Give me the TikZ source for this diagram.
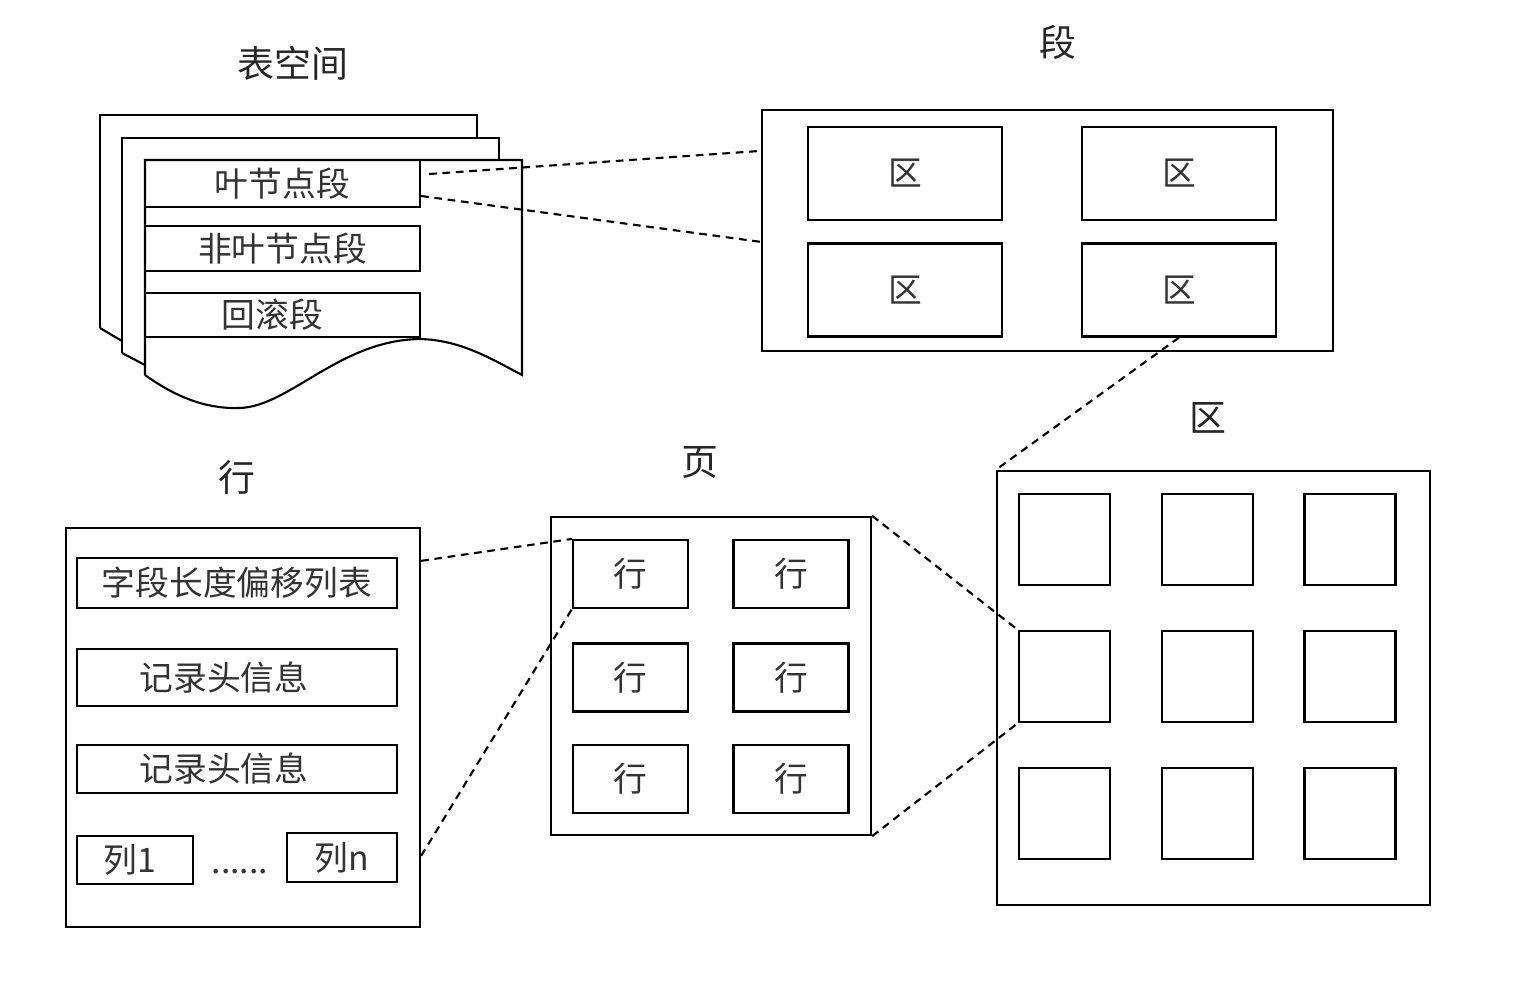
\documentclass[tikz,border=0pt]{standalone}
\usepackage{fontspec}
\setmainfont{Noto Sans CJK SC}
\usetikzlibrary{calc}
\tikzset{
  every picture/.style={line width=0.6pt, x=0.01cm, y=-0.01cm},
  titulo/.style={font=\fontsize{10.5}{12}\selectfont, text=black!85},
  caja/.style={draw, inner sep=0pt, font=\fontsize{9.6}{11}\selectfont, text=black!80},
  zona/.style={caja, minimum width=1.94cm, minimum height=0.93cm},
  fila/.style={caja, minimum width=1.15cm, minimum height=0.68cm},
  celda/.style={caja, minimum width=0.91cm, minimum height=0.91cm},
  enlace/.style={dash pattern=on 2.2pt off 1.6pt},
}

\begin{document}
\begin{tikzpicture}
  \useasboundingbox (0,0) rectangle (1514,984);
  % tablespace
  \node[titulo] (tTS) at (293,63) {表空间};
  \draw (100,328) -- (100,115) -- (477,115) -- (477,138);
  \draw (100,328) -- (122,341);
  \draw (122,353) -- (122,138) -- (499,138) -- (499,160);
  \draw (122,353) -- (145,365);
  \draw (145,375) -- (145,160) -- (522,160) -- (522,375)
    .. controls (490,358) and (460,340) .. (420,339)
    .. controls (340,340) and (290,406) .. (240,408)
    .. controls (210,409) and (180,400) .. (145,375);
  \node[caja, minimum width=2.75cm, minimum height=0.47cm] (leaf) at (282.5,183.5) {叶节点段};
  \node[caja, minimum width=2.75cm, minimum height=0.45cm] (nonleaf) at (282.5,248.5) {非叶节点段};
  \node[caja, minimum width=2.75cm, minimum height=0.44cm] (rollback) at (282.5,315) {回滚段\hspace{0.2cm}\mbox{}};

  % segment
  \node[titulo] (tSeg) at (1058,42) {段};
  \node[draw, minimum width=5.71cm, minimum height=2.41cm] (seg) at (1047.5,230.5) {};
  \node[zona] (z11) at (905,173.5) {区};
  \node[zona] (z12) at (1179,173.5) {区};
  \node[zona] (z21) at (905,290) {区};
  \node[zona] (z22) at (1179,290) {区};
  \draw[enlace] ($(leaf.east)+(8,-9.5)$) -- ($(seg.north west)+(0,42)$);
  \draw[enlace] ($(leaf.east)+(0,12.5)$) -- ($(seg.north west)+(0,133)$);

  % extent
  \node[titulo] (tExt) at (1208,418) {区};
  \node[draw, minimum width=4.33cm, minimum height=4.34cm] (ext) at (1213.5,688) {};
  \foreach \x [count=\j] in {1064.5,1207.5,1350}
    \foreach \y [count=\i] in {539.5,676.5,813.5}
      \node[celda] (q\i\j) at (\x,\y) {};
  \draw[enlace] (z22.south) -- (ext.north west);

  % page
  \node[titulo] (tPag) at (700,463) {页};
  \node[draw, minimum width=3.20cm, minimum height=3.18cm] (pag) at (711,676) {};
  \foreach \x [count=\j] in {630.5,791}
    \foreach \y [count=\i] in {574,677.5,779}
      \node[fila] (r\i\j) at (\x,\y) {行};
  \draw[enlace] (pag.north east) -- (q21.north west);
  \draw[enlace] (pag.south east) -- (q21.south west);

  % row
  \node[titulo] (tFila) at (237,477) {行};
  \node[draw, minimum width=3.54cm, minimum height=3.99cm] (row) at (243,727.5) {};
  \node[caja, minimum width=3.20cm, minimum height=0.50cm] (off) at (237,583) {字段长度偏移列表};
  \node[caja, minimum width=3.20cm, minimum height=0.57cm] (hdrA) at (237,677.5) {记录头信息\hspace{0.26cm}\mbox{}};
  \node[caja, minimum width=3.20cm, minimum height=0.48cm] (hdrB) at (237,769) {记录头信息\hspace{0.26cm}\mbox{}};
  \node[caja, minimum width=1.16cm, minimum height=0.48cm] (col1) at (135,860) {列1\hspace{0.1cm}\mbox{}};
  \node[caja, minimum width=1.10cm, minimum height=0.49cm] (coln) at (342,857.5) {列n};
  \node[caja, draw=none] (dots) at (240,872) {......};
  \draw[enlace] ($(row.north east)+(0,34)$) -- (r11.north west);
  \draw[enlace] ($(row.north east)+(0,329)$) -- (r11.south west);
\end{tikzpicture}
\end{document}
